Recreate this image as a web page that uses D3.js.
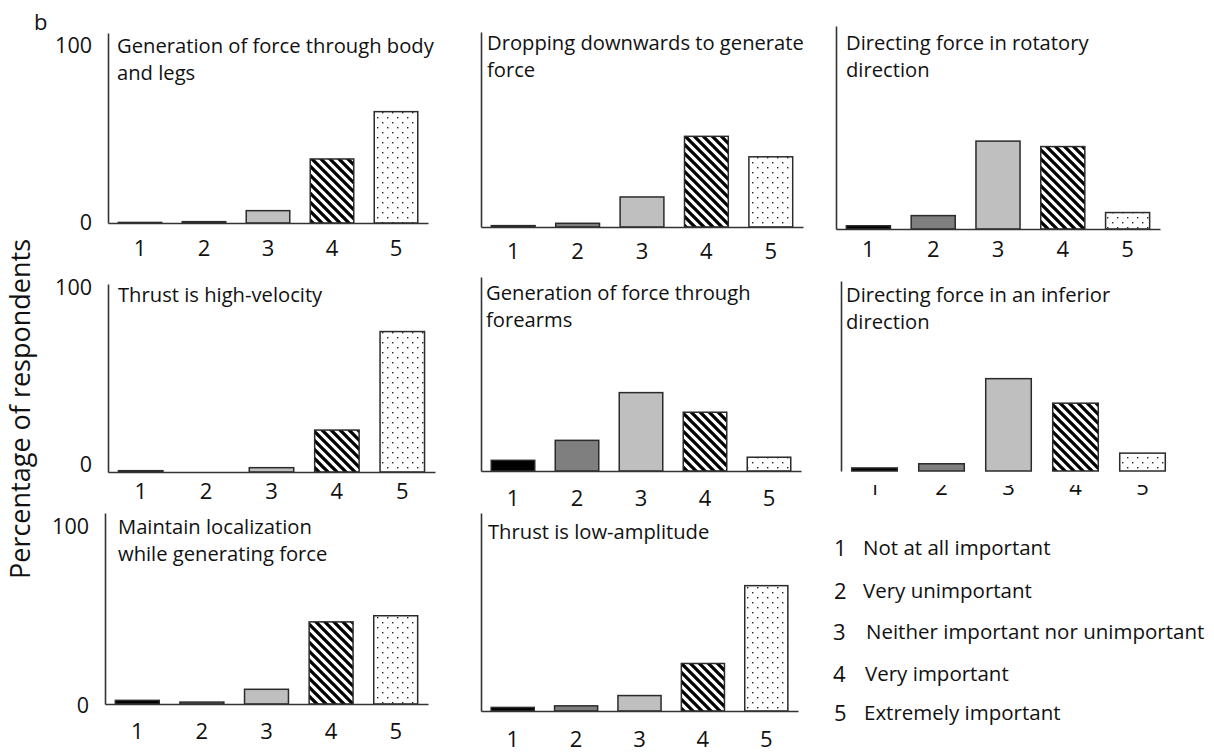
<!DOCTYPE html>
<html>
<head>
<meta charset="utf-8">
<script src="https://cdn.jsdelivr.net/npm/d3@7/dist/d3.min.js"></script>
<style>
  html, body { margin: 0; padding: 0; background: #fff; }
  svg { display: block; }
  text { font-family: "Open Sans", "DejaVu Sans", sans-serif; fill: #111; }
</style>
</head>
<body>
<svg id="chart" width="1214" height="753"></svg>
<script>
// ---------------- DATA ----------------
const categories = ["1", "2", "3", "4", "5"];
const yTicks = [0, 100];

const panelTitles = [
  ["Generation of force through body", "and legs"],
  ["Dropping downwards to generate", "force"],
  ["Directing force in rotatory", "direction"],
  ["Thrust is high-velocity"],
  ["Generation of force through", "forearms"],
  ["Directing force in an inferior", "direction"],
  ["Maintain localization", "while generating force"],
  ["Thrust is low-amplitude"]
];

const bodyAndLegs      = [0.3, 0.7, 6.5, 33.7, 58.6];
const droppingDown     = [0.7, 1.9, 15.4, 46.5, 36.0];
const rotatoryDir      = [1.6, 6.6, 43.3, 40.6, 8.1];
const highVelocity     = [0.7, 0.0, 2.3, 22.3, 74.7];
const forearms         = [5.5, 15.8, 40.4, 30.3, 7.1];
const inferiorDir      = [1.6, 3.8, 48.6, 35.7, 9.4];
const localization     = [1.9, 1.0, 7.7, 43.0, 46.2];
const lowAmplitude     = [1.8, 2.6, 7.8, 24.0, 63.3];

const seriesValues = [bodyAndLegs, droppingDown, rotatoryDir, highVelocity,
                      forearms, inferiorDir, localization, lowAmplitude];

const legendLabels = ["Not at all important", "Very unimportant",
  "Neither important nor unimportant", "Very important", "Extremely important"];

const yAxisTitle = "Percentage of respondents";
const panelLetter = "b";

// ---------------- LAYOUT (positions only) ----------------
const layout = [
  {x0:108, x1:428,  top:33,  base:223, tp:17,   ylab:true, hiDy:13, loDy:0,  tx:9,  ty:20},
  {x0:481, x1:803,  top:32,  base:227, tp:16,   ylab:false, tx:6,  ty:18},
  {x0:836, x1:1160, top:26,  base:229, tp:12.5, ylab:false, tx:10, ty:24},
  {x0:108, x1:435,  top:284, base:472, tp:11,   ylab:true, hiDy:4,  loDy:-7, tx:10, ty:18},
  {x0:481, x1:801,  top:277, base:471, tp:19,   ylab:false, tx:5,  ty:23},
  {x0:841, x1:1176, top:281, base:471, tp:8,    ylab:false, tx:5,  ty:21, clipTop:485},
  {x0:105, x1:428,  top:513, base:704, tp:19,   ylab:true, hiDy:14, loDy:2, tx:13, ty:21},
  {x0:481, x1:798,  top:513, base:711, tp:20,   ylab:false, tx:7,  ty:26}
];

const fills = ["#000000", "#7f7f7f", "#bfbfbf", "url(#stripes)", "url(#dots)"];

// ---------------- DRAW ----------------
const svg = d3.select("#chart");
const defs = svg.append("defs");

const stripes = defs.append("pattern")
  .attr("id", "stripes").attr("patternUnits", "userSpaceOnUse")
  .attr("width", 9).attr("height", 9);
stripes.append("rect").attr("width", 9).attr("height", 9).attr("fill", "#fff");
stripes.append("path")
  .attr("d", "M-1,-1 L10,10 M-5.5,3.5 L5.5,14.5 M3.5,-5.5 L14.5,5.5")
  .attr("stroke", "#000").attr("stroke-width", 3.3);

const dots = defs.append("pattern")
  .attr("id", "dots").attr("patternUnits", "userSpaceOnUse")
  .attr("width", 10).attr("height", 10);
dots.append("rect").attr("width", 10).attr("height", 10).attr("fill", "#fff");
dots.append("rect").attr("x", 2).attr("y", 2).attr("width", 1.4).attr("height", 1.4).attr("fill", "#222");
dots.append("rect").attr("x", 7).attr("y", 7).attr("width", 1.4).attr("height", 1.4).attr("fill", "#222");

seriesValues.forEach((vals, i) => {
  const L = layout[i];
  const g = svg.append("g");
  const x = d3.scaleBand().domain(categories).range([L.x0, L.x1])
    .paddingInner(0.32).paddingOuter(0.16);
  const y = d3.scaleLinear().domain([0, 100]).range([L.base, L.top]);

  // bars
  g.selectAll("rect.bar").data(vals).join("rect")
    .attr("class", "bar")
    .attr("x", (d, j) => x(categories[j]))
    .attr("width", x.bandwidth())
    .attr("y", d => y(d))
    .attr("height", d => y(0) - y(d))
    .attr("fill", (d, j) => fills[j])
    .attr("stroke", "#2b2b2b")
    .attr("stroke-width", 1.5);

  // x axis
  const xa = g.append("g")
    .attr("transform", `translate(0,${L.base})`)
    .call(d3.axisBottom(x).tickSize(0).tickSizeOuter(0).tickPadding(L.tp));
  xa.select(".domain").attr("stroke", "#333").attr("stroke-width", 1.6);
  xa.selectAll("text").attr("font-size", 22).attr("font-family", "Open Sans").attr("fill", "#111");
  if (L.clipTop) {
    defs.append("clipPath").attr("id", "clip" + i)
      .append("rect").attr("x", L.x0 - 20).attr("y", L.clipTop - L.base)
      .attr("width", L.x1 - L.x0 + 40).attr("height", 40);
    xa.attr("clip-path", `url(#clip${i})`);
  }

  // y axis
  const ya = g.append("g")
    .attr("transform", `translate(${L.x0},0)`)
    .call(d3.axisLeft(y).tickValues(yTicks).tickSize(0).tickSizeOuter(0).tickPadding(16));
  ya.select(".domain").attr("stroke", "#333").attr("stroke-width", 1.6);
  if (L.ylab) {
    ya.selectAll(".tick text")
      .attr("font-size", 21.5).attr("font-family", "Open Sans").attr("fill", "#111")
      .attr("transform", d => `translate(0,${d === 100 ? L.hiDy : L.loDy})`);
  } else {
    ya.selectAll(".tick").remove();
  }

  // title
  const title = g.append("text")
    .attr("x", L.x0 + L.tx).attr("y", L.top + L.ty)
    .attr("font-size", 20.2);
  panelTitles[i].forEach((line, k) => {
    title.append("tspan").attr("x", L.x0 + L.tx).attr("dy", k === 0 ? 0 : 26.5).text(line);
  });
});

// y axis title
svg.append("text")
  .attr("transform", "translate(30,409) rotate(-90)")
  .attr("text-anchor", "middle")
  .attr("font-size", 27)
  .text(yAxisTitle);

// panel letter
svg.append("text").attr("x", 34).attr("y", 30).attr("font-size", 22).text(panelLetter);

// legend
const legendY = [548, 591, 632, 674, 713];
const legendDigitX = [834, 834, 833, 833, 834];
const legendTextX = [863, 863, 866, 865, 864];
const lg = svg.append("g");
categories.forEach((c, k) => {
  lg.append("text").attr("x", legendDigitX[k]).attr("y", legendY[k])
    .attr("dy", "0.36em").attr("font-size", 22).text(c);
  lg.append("text").attr("x", legendTextX[k]).attr("y", legendY[k])
    .attr("dy", "0.34em").attr("font-size", 20.5).text(legendLabels[k]);
});
</script>
</body>
</html>
